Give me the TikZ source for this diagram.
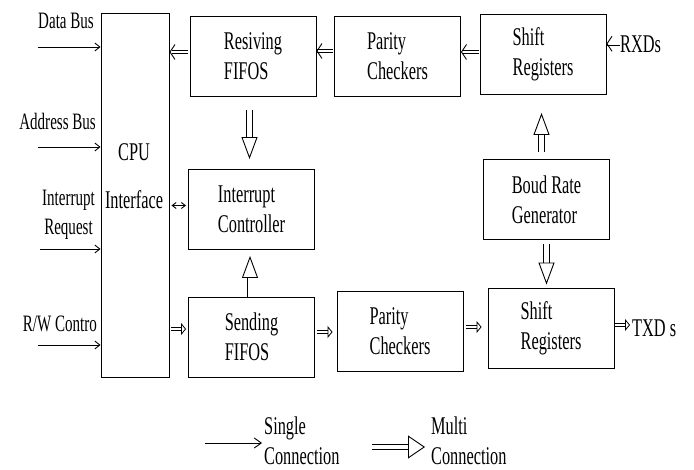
\documentclass[tikz,border=0pt]{standalone}
\usepackage{fontspec}
\setmainfont[FakeStretch=0.64]{Liberation Serif}
\usetikzlibrary{arrows.meta, decorations.markings}

\tikzset{
  blk/.style={draw, line width=0.9pt, align=left, inner sep=0pt, minimum width=126pt, minimum height=80pt, font=\fontsize{25.5}{30}\selectfont},
  txt/.style={inner sep=0pt, align=center, font=\fontsize{25.5}{30}\selectfont},
  lbl/.style={inner sep=0pt, align=center, font=\fontsize{23.5}{29}\selectfont},
  single/.style={line width=0.9pt, -{Straight Barb[length=5pt,width=8pt]}},
  barb/.style={double, double distance=2.8pt, line width=0.8pt,
    postaction={decorate, decoration={markings, mark=at position 1 with {\arrow[line width=0.9pt]{Straight Barb[length=5pt, width=15pt]}}}}},
  small/.style={double, double distance=2.8pt, line width=0.8pt, -{Triangle[open, length=5pt, width=12pt, line width=0.8pt]}},
  multi/.style={double, double distance=5pt, line width=0.9pt, -{Triangle[open, length=22pt, width=16pt, line width=0.9pt]}},
}

\begin{document}
\begin{tikzpicture}[x=1pt, y=-1pt]
  \useasboundingbox (0,0) rectangle (694,470);

  % blocks
  \node[blk, minimum width=68pt, minimum height=364pt] (cpu) at (135,195) {};
  \node[txt, anchor=north] (cputxt) at (134,143) {CPU\\[18pt]Interface};
  \node[blk] (rfifo) at (253,56) {Resiving\\FIFOS};
  \node[blk] (rpar) at (397.5,56) {Parity\\Checkers};
  \node[blk] (rshift) at (543,54.5) {Shift\\Registers};
  \node[blk] (intc) at (251.5,209.5) {Interrupt\\Controller};
  \node[blk] (baud) at (546.5,199.5) {Boud Rate\\Generator};
  \node[blk] (sfifo) at (251.5,337) {Sending\\FIFOS};
  \node[blk] (tpar) at (400,331) {Parity\\Checkers};
  \node[blk] (tshift) at (551,328) {Shift\\Registers};

  % bus lines into the cpu interface
  \node[lbl, anchor=base east] (dbus) at (94,29) {Data Bus};
  \node[lbl, anchor=base east] (abus) at (96,130) {Address Bus};
  \node[lbl, anchor=north east] (ireq) at (95,190) {Interrupt\\Request};
  \node[lbl, anchor=base east] (rwc) at (97,332) {R/W Contro};
  \coordinate (dbin) at (38,47);
  \coordinate (abin) at (38,147);
  \coordinate (irin) at (40,249);
  \coordinate (rwin) at (38,345);
  \draw[single] (dbin) -- (dbin -| cpu.west);
  \draw[single] (abin) -- (abin -| cpu.west);
  \draw[single] (irin) -- (irin -| cpu.west);
  \draw[single] (rwin) -- (rwin -| cpu.west);

  % receive path
  \node[txt, anchor=base west] (rxd) at (620,53) {RXDs};
  \draw[barb, shorten >=1pt] ([yshift=1pt]rxd.west) -- ([yshift=1pt]rxd.west -| rshift.east);
  \draw[barb, shorten <=1pt, shorten >=1pt] ([yshift=2.5pt]rshift.west) -- ([yshift=2.5pt]rshift.west -| rpar.east);
  \draw[barb, shorten <=1pt, shorten >=1pt] ([yshift=5pt]rpar.west) -- ([yshift=5pt]rpar.west -| rfifo.east);
  \draw[barb, shorten <=2pt, shorten >=3pt] ([yshift=4pt]rfifo.west) -- ([yshift=4pt]rfifo.west -| cpu.east);
  \draw[multi, shorten <=14pt, shorten >=10pt] ([xshift=-2pt]intc.north |- rfifo.south) -- ([xshift=-2pt]intc.north);
  \draw[multi, shorten <=7pt, shorten >=18pt] ([xshift=-5pt]baud.north) -- ([xshift=-5pt]baud.north |- rshift.south);

  % interrupt and transmit path
  \draw[single, {Straight Barb[length=4pt,width=6pt]}-{Straight Barb[length=4pt,width=6pt]}, shorten <=2pt, shorten >=2pt] ([yshift=4pt]intc.west) -- ([yshift=4pt]intc.west -| cpu.east);
  \draw[small, shorten <=2pt, shorten >=2pt] ([yshift=8pt]sfifo.west -| cpu.east) -- ([yshift=8pt]sfifo.west);
  \draw[multi, shorten >=6pt] ([xshift=-1.5pt]sfifo.north) -- ([xshift=-1.5pt]sfifo.north |- intc.south);
  \draw[small, shorten <=2pt, shorten >=4pt] ([yshift=5pt]sfifo.east) -- ([yshift=5pt]sfifo.east -| tpar.west);
  \draw[small, shorten <=3pt, shorten >=6pt] ([yshift=4pt]tpar.east) -- ([yshift=4pt]tpar.east -| tshift.west);
  \draw[multi, shorten <=4pt, shorten >=3pt] (baud.south) -- (baud.south |- tshift.north);
  \node[txt, anchor=base west] (txd) at (632,337) {TXD s};
  \draw[small, shorten <=1pt, shorten >=2pt] ([yshift=3pt]tshift.east) -- ([yshift=3pt]tshift.east -| txd.west);

  % legend
  \node[txt, align=left, anchor=north west] (lsingle) at (264,417) {Single\\Connection};
  \node[txt, align=left, anchor=north west] (lmulti) at (431,417) {Multi\\Connection};
  \coordinate (lsin) at (205,443);
  \coordinate (lmin) at (372,447);
  \draw[single, -{Straight Barb[length=7pt,width=10pt]}, shorten >=2pt] (lsin) -- (lsin -| lsingle.west);
  \draw[multi, double distance=4pt, -{Triangle[open, length=17pt, width=23pt, line width=0.9pt]}, shorten >=6pt] (lmin) -- (lmin -| lmulti.west);
\end{tikzpicture}
\end{document}
